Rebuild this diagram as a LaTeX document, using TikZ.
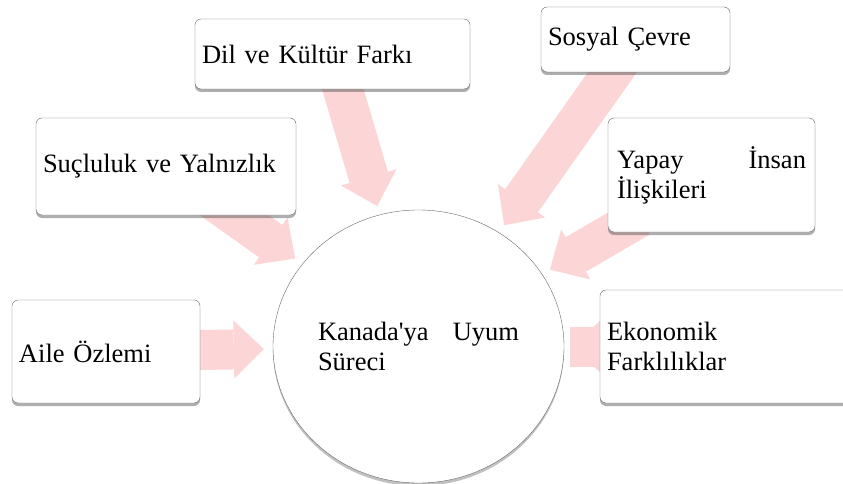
\documentclass[tikz,border=0pt]{standalone}
\usepackage{fontspec}
\setmainfont{Liberation Serif}
\usetikzlibrary{shapes.geometric,shadows,arrows.meta,backgrounds}
\definecolor{flowpink}{RGB}{252,214,214}
\definecolor{edgegray}{RGB}{105,105,105}
\hyphenpenalty=10000
\begin{document}
\begin{tikzpicture}[x=1pt,y=-1pt,
    every node/.style={font=\fontsize{26.5}{30}\selectfont},
    box/.style={draw=edgegray,fill=white,rounded corners=6pt,inner xsep=7pt,inner ysep=0pt,align=left,
      drop shadow={shadow xshift=0pt,shadow yshift=-3pt,opacity=.45,fill=black!70}},
    flow/.style={flowpink,line width=40pt,shorten >=9pt,shorten <=-30pt,
      -{Triangle[width=58pt,length=30pt,line width=0pt]}}]
  \useasboundingbox (0,0) rectangle (843,484);
  \node[ellipse,draw=edgegray,fill=white,inner sep=0pt,minimum width=291pt,minimum height=273pt,
    text width=201pt,align=justify,
    drop shadow={shadow xshift=0pt,shadow yshift=-3pt,opacity=.35,fill=black!70}] (uyum) at (418.5,346.5)
    {Kanada\textquotesingle ya Uyum Süreci};
  \node[box,minimum width=188pt,minimum height=103pt,text width=174pt] (aile) at (106,351.5) {Aile Özlemi};
  \node[box,minimum width=260pt,minimum height=97pt,text width=246pt] (sucluluk) at (166,166.5) {Suçluluk ve Yalnızlık};
  \node[box,minimum width=275pt,minimum height=70pt,text width=261pt] (dil) at (332.5,54) {Dil ve Kültür Farkı};
  \node[box,minimum width=189pt,minimum height=65pt,text width=175pt] (sosyal) at (635.5,39.5) {Sosyal Çevre};
  \node[box,minimum width=207pt,minimum height=114pt,inner xsep=9pt,text width=189pt,align=justify] (yapay) at (711.5,175) {Yapay İnsan İlişkileri};
  \node[box,minimum width=280pt,minimum height=113pt,text width=266pt] (ekonomik) at (740,346.5) {Ekonomik\\Farklılıklar};
  \begin{scope}[on background layer]
    \draw[flow] (aile) -- (uyum);
    \draw[flow] (sucluluk) -- (uyum);
    \draw[flow] (dil) -- (uyum);
    \draw[flow] (sosyal) -- (uyum);
    \draw[flow] (yapay) -- (uyum);
    \draw[flow] (ekonomik) -- (uyum);
  \end{scope}
\end{tikzpicture}
\end{document}
